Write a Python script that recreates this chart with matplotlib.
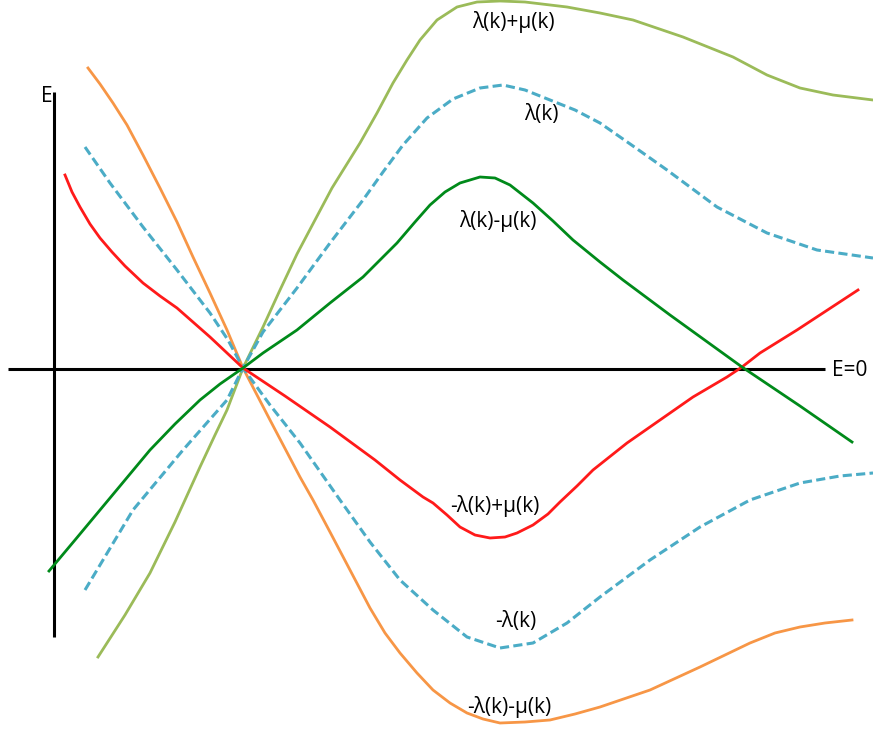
import matplotlib
matplotlib.use('Agg')
import matplotlib.pyplot as plt

# positions, in pixel units (y grows downward)
orange_x = [88, 100, 113, 127, 143, 160, 177, 193, 210, 227, 243, 270, 300, 313, 330, 350, 370, 385, 400,
            417, 433, 450, 467, 483, 500, 525, 550, 575, 600, 650, 700, 750, 775, 800, 825, 852]
orange_y = [68, 84, 103, 125, 155, 188, 222, 257, 293, 330, 368, 420, 477, 500, 532, 570, 608, 633, 653,
            673, 690, 703, 713, 719, 723, 722, 720, 714, 707, 690, 667, 643, 633, 627, 623, 620]

lgreen_x = [98, 125, 150, 175, 200, 215, 227, 243, 263, 280, 297, 315, 332, 360, 377, 393, 407, 420,
            437, 457, 477, 500, 525, 567, 600, 633, 683, 733, 767, 800, 833, 873]
lgreen_y = [657, 615, 573, 522, 467, 435, 410, 368, 327, 290, 254, 220, 188, 143, 113, 83, 60, 40,
            20, 7, 2, 1, 2, 7, 13, 20, 37, 57, 75, 88, 95, 100]

# -lambda(k): upper left through the crossing to lower right
blue1_x = [85, 110, 143, 177, 210, 228, 243, 270, 300, 340, 370, 400, 433, 467, 500, 533, 567,
           600, 650, 700, 750, 800, 840, 873]
blue1_y = [147, 183, 227, 270, 313, 340, 368, 405, 443, 500, 542, 580, 610, 637, 648, 643, 623,
           597, 560, 527, 500, 483, 476, 473]

# lambda(k): lower left through the crossing to upper right
blue2_x = [85, 133, 183, 227, 243, 263, 297, 330, 363, 383, 403, 427, 453, 480, 503, 525,
           550, 575, 600, 633, 667, 717, 767, 817, 873]
blue2_y = [590, 510, 450, 400, 368, 332, 288, 243, 200, 172, 145, 118, 99, 88, 85, 90,
           100, 110, 123, 146, 170, 207, 233, 250, 258]

red_x = [65, 72, 80, 90, 100, 112, 125, 143, 160, 177, 210, 243, 285, 330, 375, 400, 423, 433, 447,
         460, 475, 490, 505, 517, 533, 548, 560, 577, 593, 627, 660, 693, 727, 742, 760, 797, 858]
red_y = [175, 192, 207, 224, 238, 252, 266, 283, 296, 308, 337, 368, 396, 427, 460, 480, 497, 503, 515,
         527, 535, 538, 537, 533, 525, 514, 502, 486, 470, 443, 420, 397, 377, 367, 353, 330, 290]

dgreen_x = [49, 75, 100, 125, 150, 175, 200, 220, 243, 263, 297, 330, 363, 397, 415, 430, 445,
            460, 480, 495, 510, 533, 553, 573, 600, 623, 670, 742, 800, 852]
dgreen_y = [571, 540, 510, 480, 450, 424, 400, 384, 368, 353, 330, 303, 277, 243, 222, 205, 192,
            183, 177, 178, 185, 203, 221, 240, 262, 280, 315, 367, 406, 442]

labels = ['λ(k)+μ(k)', 'λ(k)', 'λ(k)-μ(k)', '-λ(k)+μ(k)', '-λ(k)', '-λ(k)-μ(k)']
label_x = [513, 541, 498, 495, 516, 509]
label_y = [22, 114, 221, 506, 621, 707]

plt.rcParams['font.family'] = ['Open Sans', 'DejaVu Sans']

fig = plt.figure(figsize=(8.73, 7.29), dpi=100)
ax = fig.add_axes([0, 0, 1, 1])
ax.set_xlim(0, 873)
ax.set_ylim(729, 0)
ax.axis('off')

# axes of the sketch
ax.plot([8, 825], [369, 369], color='black', lw=2.2, solid_capstyle='butt')
ax.plot([54, 54], [92, 637], color='black', lw=2.2, solid_capstyle='butt')
ax.text(47, 96, 'E', fontsize=15, ha='center', va='center')
ax.text(832, 370, 'E=0', fontsize=15, ha='left', va='center')

ax.plot(orange_x, orange_y, color='#F79646', lw=2.0)
ax.plot(lgreen_x, lgreen_y, color='#9BBB59', lw=2.0)
ax.plot(blue1_x, blue1_y, color='#4BACC6', lw=2.2, dashes=(3.0, 1.4))
ax.plot(blue2_x, blue2_y, color='#4BACC6', lw=2.2, dashes=(3.0, 1.4))
ax.plot(red_x, red_y, color='#FF1A1A', lw=2.0)
ax.plot(dgreen_x, dgreen_y, color='#008A1A', lw=2.0)

for txt, x, y in zip(labels, label_x, label_y):
    ax.text(x, y, txt, fontsize=15, ha='center', va='center')

fig.savefig('out.png', dpi=100)
